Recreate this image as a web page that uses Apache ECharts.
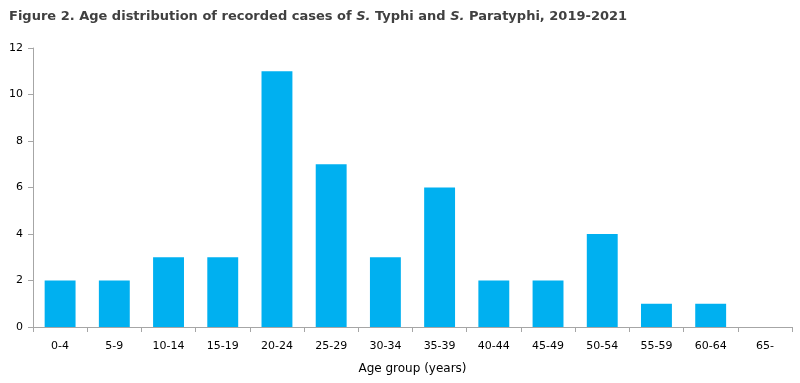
<!DOCTYPE html>
<html><head><meta charset="utf-8">
<script src="https://cdn.jsdelivr.net/npm/echarts@6/dist/echarts.min.js"></script>
<style>html,body{margin:0;padding:0;background:#fff}#c{width:800px;height:383px}</style>
</head><body><div id="c"></div>
<script>
var categories = ['0-4','5-9','10-14','15-19','20-24','25-29','30-34','35-39','40-44','45-49','50-54','55-59','60-64','65-'];
var cases = [2,2,3,3,11,7,3,6,2,2,4,1,1,0];
var yTicks = {min:0, max:12, interval:2};

var chart = echarts.init(document.getElementById('c'));
chart.setOption({
  animation:false,
  title:{
    text:'Figure 2. Age distribution of recorded cases of {i|S.} Typhi and {i|S.} Paratyphi, 2019-2021',
    left:4, top:5,
    textStyle:{fontFamily:'DejaVu Sans', fontWeight:'bold', fontSize:13, color:'#404040',
      rich:{i:{fontStyle:'italic', fontFamily:'DejaVu Sans', fontWeight:'bold', fontSize:13, color:'#404040'}}}
  },
  grid:{left:33, right:8, top:48, bottom:56, containLabel:false},
  xAxis:{
    type:'category', data:categories,
    name:'Age group (years)', nameLocation:'middle', nameGap:36,
    nameTextStyle:{fontFamily:'DejaVu Sans', fontSize:12, color:'#000'},
    axisLine:{lineStyle:{color:'#a6a6a6'}},
    axisTick:{show:true, length:5, lineStyle:{color:'#a6a6a6'}},
    axisLabel:{fontFamily:'DejaVu Sans', fontSize:11, color:'#000', margin:14}
  },
  yAxis:{
    type:'value', min:yTicks.min, max:yTicks.max, interval:yTicks.interval,
    splitLine:{show:false},
    axisLine:{show:true, lineStyle:{color:'#a6a6a6'}},
    axisTick:{show:true, length:5, lineStyle:{color:'#a6a6a6'}},
    axisLabel:{fontFamily:'DejaVu Sans', fontSize:11, color:'#000', margin:10}
  },
  series:[{type:'bar', data:cases, barWidth:'57%', itemStyle:{color:'#00b0f0'}}]
});
</script></body></html>
